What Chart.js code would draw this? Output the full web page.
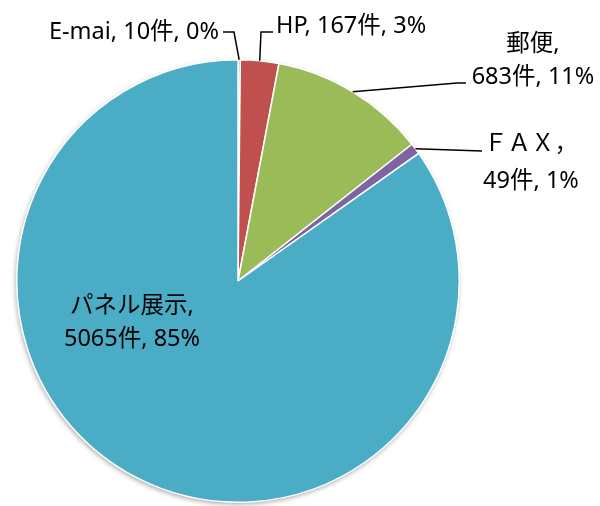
<!DOCTYPE html>
<html><head><meta charset="utf-8">
<script src="https://cdn.jsdelivr.net/npm/chart.js@4"></script>
<style>html,body{margin:0;padding:0;background:#fff}#wrap{width:600px;height:506px;position:relative}</style>
</head>
<body><div id="wrap"><canvas id="c" width="600" height="506"></canvas></div>
<script>
// ---- data ----
const categories = ['E-mai', 'HP', '郵便', 'ＦＡＸ', 'パネル展示'];
const counts = [10, 167, 683, 49, 5065];
const percentLabels = ['0%', '3%', '11%', '1%', '85%'];
const nameSeparators = [', ', ', ', ',', '，', ','];
const countSuffix = '件';

// ---- styles / layout ----
const colors = ['#4F81BD', '#C0504D', '#9BBB59', '#8064A2', '#4BACC6'];
const FONT = '23.5px "Noto Sans", "Noto Sans CJK JP", sans-serif';
// label layout: text anchor, alignment, baselines, leader line points (from text side toward slice)
const labelLayout = [
  { align: 'right',  x: 219, baselines: [39],       multiLine: false, leader: [[223, 32], [234, 32]] },
  { align: 'left',   x: 276, baselines: [33],       multiLine: false, leader: [[273, 32], [261, 32]] },
  { align: 'center', x: 533, baselines: [51, 84],   multiLine: true,  leader: [[466, 83], [457, 83]] },
  { align: 'center', x: 531, baselines: [151, 188], multiLine: true,  leader: [[482, 151]] },
  { align: 'center', x: 132, baselines: [313, 346], multiLine: true,  leader: null }
];

function labelLines(i) {
  const name = categories[i] + nameSeparators[i].trim();
  const rest = counts[i] + countSuffix + ', ' + percentLabels[i];
  if (labelLayout[i].multiLine) return [name, rest];
  return [categories[i] + nameSeparators[i] + rest];
}

const labelPlugin = {
  id: 'pieLabels',
  afterDatasetsDraw(chart) {
    const ctx = chart.ctx;
    const meta = chart.getDatasetMeta(0);
    ctx.save();
    ctx.font = FONT;
    ctx.fillStyle = '#000';
    ctx.strokeStyle = '#000';
    ctx.lineWidth = 1.5;
    meta.data.forEach((arc, i) => {
      const L = labelLayout[i];
      const p = arc.getProps(['x', 'y', 'startAngle', 'endAngle', 'outerRadius'], true);
      const mid = (p.startAngle + p.endAngle) / 2;
      if (L.leader) {
        const ax = p.x + Math.cos(mid) * p.outerRadius;
        const ay = p.y + Math.sin(mid) * p.outerRadius;
        ctx.beginPath();
        ctx.moveTo(L.leader[0][0], L.leader[0][1]);
        for (let k = 1; k < L.leader.length; k++) ctx.lineTo(L.leader[k][0], L.leader[k][1]);
        ctx.lineTo(ax, ay);
        ctx.stroke();
      }
      ctx.textAlign = L.align;
      ctx.textBaseline = 'alphabetic';
      labelLines(i).forEach((t, k) => ctx.fillText(t, L.x, L.baselines[k]));
    });
    ctx.restore();
  }
};

const shadowPlugin = {
  id: 'pieShadow',
  beforeDatasetsDraw(chart) {
    const ctx = chart.ctx;
    const meta = chart.getDatasetMeta(0);
    const a = meta.data[0];
    ctx.save();
    ctx.shadowColor = 'rgba(0,0,0,0.35)';
    ctx.shadowBlur = 5;
    ctx.shadowOffsetX = -1;
    ctx.shadowOffsetY = 2;
    ctx.fillStyle = '#fff';
    ctx.beginPath();
    ctx.arc(a.x, a.y, a.outerRadius, 0, Math.PI * 2);
    ctx.fill();
    ctx.restore();
  }
};

new Chart(document.getElementById('c'), {
  type: 'pie',
  data: {
    labels: categories,
    datasets: [{
      data: counts,
      backgroundColor: colors,
      borderColor: '#ffffff',
      borderWidth: 1.5
    }]
  },
  options: {
    responsive: false,
    animation: false,
    layout: { padding: { left: 16, right: 140, top: 59, bottom: 3 } },
    plugins: { legend: { display: false }, tooltip: { enabled: false } }
  },
  plugins: [shadowPlugin, labelPlugin]
});
</script>
</body></html>
